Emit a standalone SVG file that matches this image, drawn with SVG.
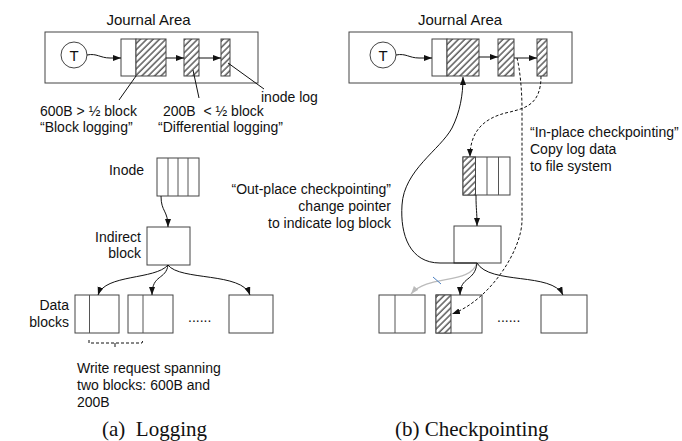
<svg xmlns="http://www.w3.org/2000/svg" width="682" height="441" viewBox="0 0 682 441">
<style>
.box{fill:#fff;stroke:#444;stroke-width:1}
.hat{fill:url(#hatch);stroke:#444;stroke-width:1}
.div{stroke:#555;stroke-width:1}
.t{font-family:"Liberation Sans",Arial,sans-serif;font-size:14px;fill:#111}
.ja{font-family:"Liberation Sans",Arial,sans-serif;font-size:15px;fill:#111}
.cap{font-family:"Liberation Serif","Times New Roman",serif;font-size:21px;fill:#111}
.c{fill:none;stroke:#111;stroke-width:1}
.a{fill:none;stroke:#111;stroke-width:1;marker-end:url(#ah)}
.d{fill:none;stroke:#111;stroke-width:1;stroke-dasharray:3 2;marker-end:url(#ah)}
.g{fill:none;stroke:#bbb;stroke-width:1.2;marker-end:url(#ag)}
</style>
<defs>
<pattern id="hatch" patternUnits="userSpaceOnUse" width="4.5" height="4.5" patternTransform="rotate(45)">
<rect width="4.5" height="4.5" fill="#fff"/>
<line x1="1" y1="0" x2="1" y2="4.5" stroke="#333" stroke-width="1.2"/>
</pattern>
<marker id="ah" markerUnits="userSpaceOnUse" markerWidth="9" markerHeight="7" refX="8" refY="3" orient="auto"><path d="M0,0 L8,3 L0,6 z" fill="#111"/></marker>
<marker id="ag" markerUnits="userSpaceOnUse" markerWidth="9" markerHeight="7" refX="8" refY="3" orient="auto"><path d="M0,0 L8,3 L0,6 z" fill="#bbb"/></marker>
</defs>
<rect width="682" height="441" fill="#fff"/>

<!-- Left panel (a) -->
<g id="journal-a">
<text class="ja" x="148.5" y="25" text-anchor="middle">Journal Area</text>
<rect class="box" x="45" y="32" width="213" height="51"/>
</g>
<g id="T-a"><circle class="box" cx="74" cy="55" r="13"/><text class="ja" x="74" y="60.5" text-anchor="middle">T</text></g>
<g id="jblock1-a"><rect class="box" x="121" y="39" width="15" height="37"/><rect class="hat" x="136" y="39" width="30" height="37"/></g>
<g id="jblock2-a"><rect class="hat" x="184" y="39" width="15" height="37"/></g>
<g id="jblock3-a"><rect class="hat" x="221" y="39" width="9" height="37"/></g>
<g id="labels-a">
<text class="t" x="261" y="102">inode log</text>
<text class="t" x="40" y="116">600B &gt; ½ block</text>
<text class="t" x="40" y="132">“Block logging”</text>
<text class="t" x="163" y="116" xml:space="preserve">200B  &lt; ½ block</text>
<text class="t" x="158" y="132">“Differential logging”</text>
</g>
<g id="inode-a">
<text class="t" x="144" y="175" text-anchor="end">Inode</text>
<rect class="box" x="157" y="158" width="42" height="38"/>
<line class="div" x1="168" y1="158" x2="168" y2="196"/>
<line class="div" x1="178" y1="158" x2="178" y2="196"/>
<line class="div" x1="188" y1="158" x2="188" y2="196"/>
</g>
<g id="indirect-a">
<text class="t" x="141" y="242" text-anchor="end">Indirect</text>
<text class="t" x="141" y="258" text-anchor="end">block</text>
<rect class="box" x="147" y="227" width="43" height="38"/>
</g>
<g id="data-a">
<text class="t" x="69" y="310" text-anchor="end">Data</text>
<text class="t" x="69" y="327" text-anchor="end">blocks</text>
</g>
<g id="dblock1-a"><rect class="box" x="75" y="295" width="44" height="38"/><line class="div" x1="89.5" y1="295" x2="89.5" y2="333"/></g>
<g id="dblock2-a"><rect class="box" x="128" y="295" width="45" height="38"/><line class="div" x1="143" y1="295" x2="143" y2="333"/></g>
<g id="dots-a"><text class="t" x="188" y="322">......</text></g>
<g id="dblock4-a"><rect class="box" x="229" y="295" width="44" height="38"/></g>
<g id="note-a">
<text class="t" x="77" y="373">Write request spanning</text>
<text class="t" x="77" y="390">two blocks: 600B and</text>
<text class="t" x="77" y="407">200B</text>
</g>
<text class="cap" x="102" y="436" xml:space="preserve">(a)  Logging</text>

<!-- Right panel (b) -->
<g id="journal-b">
<text class="ja" x="460" y="25" text-anchor="middle">Journal Area</text>
<rect class="box" x="349" y="32" width="223" height="51"/>
</g>
<g id="T-b"><circle class="box" cx="383" cy="55" r="13"/><text class="ja" x="383" y="60.5" text-anchor="middle">T</text></g>
<g id="jblock1-b"><rect class="box" x="432" y="39" width="15" height="37"/><rect class="hat" x="447" y="39" width="32" height="37"/></g>
<g id="jblock2-b"><rect class="hat" x="498" y="39" width="16" height="37"/></g>
<g id="jblock3-b"><rect class="hat" x="537" y="39" width="10" height="37"/></g>
<g id="labels-b">
<text class="t" x="530" y="137">“In-place checkpointing”</text>
<text class="t" x="530" y="154">Copy log data</text>
<text class="t" x="530" y="171">to file system</text>
<text class="t" x="391" y="194" text-anchor="end">“Out-place checkpointing”</text>
<text class="t" x="391" y="211" text-anchor="end">change pointer</text>
<text class="t" x="391" y="228" text-anchor="end">to indicate log block</text>
</g>
<g id="inode-b">
<rect class="box" x="463" y="157" width="47" height="38"/>
<rect class="hat" x="463" y="157" width="12.5" height="38"/>
<line class="div" x1="487" y1="157" x2="487" y2="195"/>
<line class="div" x1="498.5" y1="157" x2="498.5" y2="195"/>
</g>
<g id="indirect-b"><rect class="box" x="454" y="226" width="47" height="37"/></g>
<g id="dblock1-b"><rect class="box" x="379" y="295" width="46" height="38"/><line class="div" x1="395" y1="295" x2="395" y2="333"/></g>
<g id="dblock2-b"><rect class="box" x="436" y="295" width="46" height="38"/><rect class="hat" x="436" y="295" width="15" height="38"/></g>
<g id="dots-b"><text class="t" x="497" y="322">......</text></g>
<g id="dblock4-b"><rect class="box" x="541" y="295" width="46" height="38"/></g>
<text class="cap" x="395" y="436">(b) Checkpointing</text>

<g id="connectors">
<!-- left -->
<path class="a" d="M87,55 C97,53 100,58 110,58 L121,58"/>
<path class="a" d="M166,58 L184,58"/>
<path class="a" d="M199,58 L221,58"/>
<path class="c" d="M136,76 L119,100"/>
<path class="c" d="M193,70 L199,98"/>
<path class="c" d="M228,63 L264,89"/>
<path class="a" d="M161,196 C161,212 168,210 168,227"/>
<path class="a" d="M168,265 C155,280 105,274 98,295"/>
<path class="a" d="M168,265 C166,280 152,274 152,295"/>
<path class="a" d="M168,265 C180,281 242,272 250,295"/>
<path class="c" d="M89,340 L89,343 L142,343 L143,340" stroke-dasharray="3 2"/>
<path class="c" d="M115,343 L115,347"/>
<!-- right -->
<path class="a" d="M396,55 C406,53 409,58 419,58 L432,58"/>
<path class="a" d="M479,57 L498,57"/>
<path class="a" d="M514,58 L537,58"/>
<path class="a" d="M476,195 C476,211 477,210 477,226"/>
<path class="g" d="M477,263 C470,285 428,274 411,294"/>
<path d="M433,277 L441,284" stroke="#4a7fc1" stroke-width="1" fill="none"/>
<path class="a" d="M477,263 C475,282 460,276 460,295"/>
<path class="a" d="M477,263 C490,285 552,272 563,295"/>
<path class="a" d="M477,263 L440,263 C410,263 400,235 402,205 C404,170 440,150 452,128 C460,112 463,95 463,77"/>
<path class="d" d="M517,58 C520,70 522,90 522,110 L522,220 C522,250 490,300 452,314"/>
<path class="d" d="M541,76 C541,105 525,108 510,112 C480,118 470,135 470,157"/>
</g>
</svg>
